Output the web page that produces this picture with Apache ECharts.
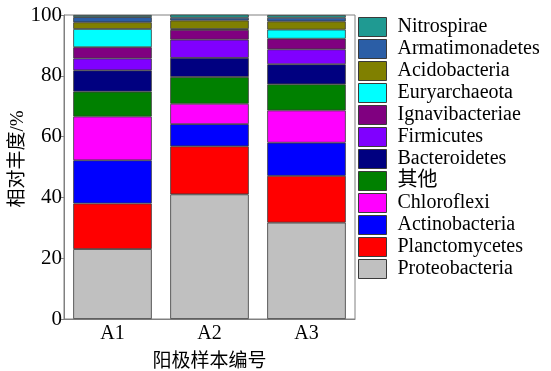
<!DOCTYPE html>
<html>
<head>
<meta charset="utf-8">
<script src="https://cdn.jsdelivr.net/npm/echarts@6/dist/echarts.min.js"></script>
<style>
  html, body { margin: 0; padding: 0; background: #fff; }
  #chart { width: 551px; height: 371px; }
</style>
</head>
<body>
<div id="chart"></div>
<script>
// Samples on the x axis
const samples = ['A1', 'A2', 'A3'];

// Relative abundance (%) per phylum, stacked bottom to top
const proteobacteria  = [23.0, 41.0, 31.7];
const planctomycetes  = [15.0, 15.8, 15.4];
const actinobacteria  = [14.2, 7.3, 10.9];
const chloroflexi     = [14.4, 6.7, 10.6];
const others          = [8.2, 8.8, 8.6];
const bacteroidetes   = [7.0, 6.3, 6.6];
const firmicutes      = [3.9, 6.0, 4.9];
const ignavibacteriae = [3.7, 3.2, 3.5];
const euryarchaeota   = [6.0, 0.3, 3.0];
const acidobacteria   = [2.2, 2.8, 2.7];
const armatimonadetes = [1.7, 0.9, 1.2];
const nitrospirae     = [0.7, 1.1, 0.9];

const seriesNames = ['Proteobacteria', 'Planctomycetes', 'Actinobacteria', 'Chloroflexi', '其他',
  'Bacteroidetes', 'Firmicutes', 'Ignavibacteriae', 'Euryarchaeota', 'Acidobacteria',
  'Armatimonadetes', 'Nitrospirae'];
const seriesValues = [proteobacteria, planctomycetes, actinobacteria, chloroflexi, others,
  bacteroidetes, firmicutes, ignavibacteriae, euryarchaeota, acidobacteria,
  armatimonadetes, nitrospirae];
const seriesColors = ['#c0c0c0', '#ff0000', '#0000ff', '#ff00ff', '#008000',
  '#000080', '#8000ff', '#800080', '#00ffff', '#808000',
  '#2b5ea6', '#1f9a92'];

const yTicks = [0, 20, 40, 60, 80, 100];

const FONT = '"Liberation Serif", "Times New Roman", "Noto Sans CJK SC", serif';

const chart = echarts.init(document.getElementById('chart'), null, { renderer: 'canvas' });

const series = seriesNames.map((name, i) => ({
  name: name,
  type: 'bar',
  stack: 'total',
  barCategoryGap: '19%',
  data: seriesValues[i],
  itemStyle: { color: seriesColors[i], borderColor: '#3a3a3a', borderWidth: 0.8 },
  emphasis: { disabled: true }
}));

chart.setOption({
  animation: false,
  textStyle: { fontFamily: FONT },
  grid: {
    left: 64, right: 196, top: 15, bottom: 52,
    outerBoundsMode: 'none',
    containLabel: false,
    show: true, borderColor: '#808080', borderWidth: 1, backgroundColor: 'transparent'
  },
  legend: {
    orient: 'vertical',
    left: 358, top: 17,
    padding: 0,
    icon: 'rect',
    itemWidth: 28, itemHeight: 19, itemGap: 2,
    data: seriesNames.slice().reverse(),
    itemStyle: { borderColor: '#3a3a3a', borderWidth: 1 },
    textStyle: { fontFamily: FONT, fontSize: 20, lineHeight: 19, color: '#000', padding: [0, 0, 0, 6] },
    selectedMode: false
  },
  xAxis: {
    type: 'category',
    data: samples,
    name: '阳极样本编号',
    nameLocation: 'middle',
    nameGap: 34,
    nameMoveOverlap: false,
    nameTextStyle: { fontFamily: FONT, fontSize: 19, color: '#000' },
    axisLine: { lineStyle: { color: '#808080', width: 1 } },
    axisTick: { show: false },
    axisLabel: { fontFamily: FONT, fontSize: 20, color: '#000', margin: 5 }
  },
  yAxis: {
    type: 'value',
    min: 0, max: 100, interval: 20,
    name: '相对丰度/%',
    nameLocation: 'middle',
    nameGap: 36,
    nameMoveOverlap: false,
    nameTextStyle: { fontFamily: FONT, fontSize: 19, color: '#000', padding: [0, 0, 0, 16] },
    splitLine: { show: false },
    axisLine: { show: true, lineStyle: { color: '#808080', width: 1 } },
    axisTick: { show: true, inside: false, length: 4, lineStyle: { color: '#808080' } },
    axisLabel: {
      fontFamily: FONT, fontSize: 21, color: '#000', margin: 2,
      formatter: v => (yTicks.includes(v) ? String(v) : '')
    }
  },
  series: series
});
</script>
</body>
</html>
